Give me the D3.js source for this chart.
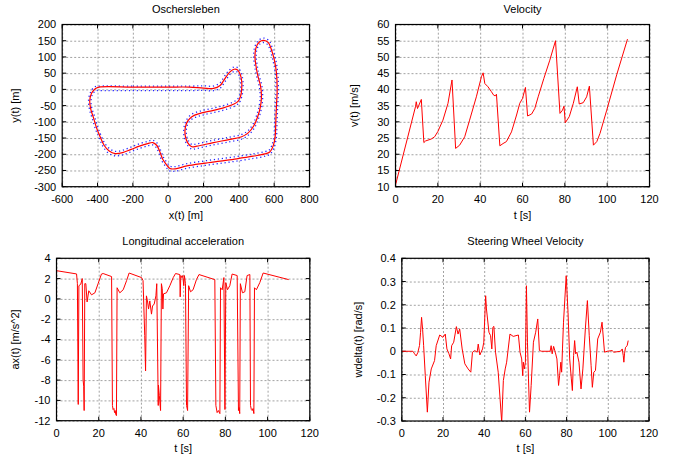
<!DOCTYPE html>
<html>
<head>
<meta charset="utf-8">
<script src="https://cdn.jsdelivr.net/npm/d3@7"></script>
<style>
  html, body { margin: 0; padding: 0; background: #fff; }
  svg { display: block; }
  text { font-family: "Liberation Sans", Arial, Helvetica, sans-serif; font-size: 11px; fill: #000; }
</style>
</head>
<body>
<svg id="chart" width="681" height="459"></svg>
<script>
// ---------------- DATA ----------------
// Racing line (red), clockwise on screen
const trackX = [-391,-200,0,120,200,256,294,313,331,350,373,393,408,416,416,410,397,369,313,238,181,134,110,97,97,110,134,162,256,350,416,453,484,508,523,528,523,508,497,491,497,516,541,567,584,600,613,617,613,609,606,594,575,547,481,388,294,200,106,40,10,-11,-30,-49,-64,-87,-116,-163,-210,-258,-300,-334,-362,-387,-406,-423,-438,-444,-434,-413];
const trackY = [7,7,7,7,4,3,12,26,41,54,62,60,46,26,0,-21,-36,-46,-57,-67,-74,-84,-98,-118,-144,-164,-177,-175,-164,-154,-146,-134,-113,-82,-51,-21,10,41,72,103,128,146,151,144,123,93,51,0,-51,-103,-144,-175,-193,-199,-206,-214,-221,-228,-236,-245,-244,-231,-216,-190,-173,-164,-167,-175,-185,-195,-198,-190,-173,-144,-118,-87,-62,-36,-12,2];
// Track borders (blue dotted)
const outerX = [-391,-200,0,120,200,255,291,309,327,347,372,396,414,423,423,416,401,371,314,239,182,136,115,104,104,115,135,161,255,349,415,450,479,502,516,521,516,502,490,484,491,513,541,571,590,607,620,624,620,616,613,600,578,548,482,389,295,201,107,41,8,-15,-35,-54,-68,-88,-115,-162,-209,-257,-300,-337,-367,-392,-412,-429,-444,-451,-439,-416];
const outerY = [10,10,10,10,11,10,19,32,47,60,69,66,50,26,-1,-24,-42,-53,-64,-74,-81,-91,-103,-120,-142,-159,-170,-168,-157,-147,-139,-128,-108,-78,-49,-21,8,38,70,103,132,152,158,150,127,96,52,0,-52,-104,-145,-179,-199,-206,-213,-221,-228,-235,-243,-252,-251,-237,-221,-194,-179,-171,-174,-182,-192,-202,-205,-197,-178,-148,-122,-91,-65,-35,-8,8];
const innerX = [-391,-200,0,120,200,257,297,317,335,353,374,390,402,409,409,404,393,367,312,237,180,132,105,90,90,105,133,163,257,351,417,456,489,514,530,535,530,514,504,498,503,519,541,563,578,593,606,610,606,602,599,588,572,546,480,387,293,199,105,39,12,-7,-25,-44,-60,-86,-117,-164,-211,-259,-300,-331,-357,-382,-400,-417,-432,-437,-429,-410];
const innerY = [-4,-4,-4,-4,-3,-4,5,20,35,48,55,54,42,26,1,-18,-30,-39,-50,-60,-67,-77,-93,-116,-146,-169,-184,-182,-171,-161,-153,-140,-118,-86,-53,-21,12,44,74,103,124,140,144,138,119,90,50,0,-50,-102,-143,-171,-187,-192,-199,-207,-214,-221,-229,-238,-237,-225,-211,-186,-167,-157,-160,-168,-178,-188,-191,-183,-168,-140,-114,-83,-59,-37,-16,-4];

// Velocity v(t) [m/s]
const velT = [0,9.5,9.8,10.4,12.2,13.4,14.2,16.9,18.5,20,22.4,24.8,26.7,28.4,30.3,32.7,35,38.2,40.6,41.4,42.2,43.7,45.3,46.4,47.1,47.7,49.3,50.8,52.4,54.8,57.2,58.7,60,61.4,62.4,64.3,65.8,67.4,70.1,72.9,75.6,77.7,78.9,79.6,80.2,82.1,84,85.9,86.8,88.7,90.3,91.6,93.5,95.1,96.6,99.8,104.5,109.6];
const velV = [10.5,34.8,36.2,34.1,36.9,23.6,24.1,24.7,25.4,27,30.5,35.7,42.9,21.8,22.8,25.4,30.5,37.7,43.9,45.1,41.8,40.8,39.3,38.2,38.0,38.5,22.6,23.3,23.9,26.9,32.1,35.7,37.2,40.6,31.8,32.4,34.1,37.7,43.4,49.0,55.0,32.6,33.6,34.8,29.7,31.6,35.7,40.8,35.5,35.9,37.7,41.0,22.8,23.9,26.4,33.6,44.5,55.5];

// Longitudinal acceleration ax(t) [m/s^2]
const accT = [0,9.5,9.9,10.3,10.6,11.5,12.2,12.6,12.9,13.1,13.4,13.9,14.5,15.3,16.6,18.2,19.7,21.3,22.1,26.1,26.5,26.8,27.2,27.5,27.8,28.1,28.4,28.7,30,31.6,33.2,34.4,40.3,41,41.8,42.2,42.6,43.1,43.6,44.2,45,45.5,46.3,47.1,47.5,48.2,48.3,48.7,49.3,49.7,50.1,50.4,50.7,52.1,53.7,55.3,56.4,58.4,58.6,58.9,59.4,59.8,60.3,60.6,61.1,61.6,62.1,62.6,63.5,64.7,66.3,67.5,75,75.5,76.1,76.7,77.4,77.7,78.5,79.3,79.8,80.2,81,82.1,83.2,85.6,86.2,86.5,86.8,87.1,88.1,89.2,90.3,91.6,91.9,92.3,92.7,93.1,93.5,93.8,94.7,96.3,97.9,110];
const accA = [2.78,2.46,1.5,-10.4,1.3,1.45,2.0,-8.0,-8.6,-11.0,1.5,1.5,-0.3,0.8,0.4,0.6,1.5,2.45,2.5,2.2,-10.5,-10.9,-10.8,-11.2,-11.0,-11.4,-11.5,1.1,0.6,0.9,1.8,2.55,2.1,1.8,-3.6,-7.1,0.3,-0.2,-1.0,-0.2,-1.5,-0.7,-0.5,0.3,1.5,-10.5,-8.5,-9.5,-11.0,1.5,1.0,-1.0,0.5,0.6,1.3,2.1,2.5,2.4,0.2,2.3,2.1,2.3,1.3,2.3,1.5,-10.5,-11.0,1.3,0.7,0.9,1.9,2.4,1.9,-10.5,-11.2,-11.0,-11.3,1.1,0.9,2.1,-10.9,1.6,0.9,1.3,2.45,2.3,-11.0,-10.7,-11.3,1.5,0.6,0.7,2.3,2.4,-10.5,-10.9,-11.0,-10.8,-11.3,1.1,0.9,1.6,2.55,1.9];

// Steering wheel velocity wdelta(t) [rad/s]
const steerT = [0,5.4,6.2,7,7.8,8.6,9.1,9.6,10.1,10.6,11.4,12.4,13.2,14.3,15.9,16.7,18.4,20,21.1,21.9,22.9,23.7,24.2,25.2,26.5,27.3,28.1,29.3,30.6,32.2,33.5,34.3,35.4,36.6,37.1,37.9,39.2,39.8,40.7,41.1,42.3,43.1,43.7,44.2,44.7,45.5,46.8,48.5,49.3,50.2,50.9,52.5,54.1,56.6,57.4,58.2,58.7,59,59.5,60,60.5,61,61.5,62,62.8,63.9,65,66,66.8,67.9,72,72.5,73,73.7,74.5,75.3,76.1,76.6,77.2,77.6,78,78.5,79.8,80.7,81.5,82.3,82.8,83.4,83.9,84.4,85,86,87,87.9,89.1,90.1,91,91.9,92.5,93.2,94,95.1,96.4,97.2,98.4,99.7,102.1,102.9,106.2,107,107.5,107.8,108.1,108.6,109.4,109.9];
const steerW = [0,0,-0.011,-0.02,-0.005,0.025,0.08,0.146,0.095,0.024,-0.105,-0.262,-0.133,-0.076,-0.04,0.024,0.07,0.06,0.074,0.01,-0.011,-0.033,0.024,0.039,0.106,0.074,0.096,0.01,-0.054,-0.076,-0.09,-0.004,0.003,-0.004,0.031,-0.016,0.01,0.039,0.239,0.182,0.082,0.067,0.01,0.103,0.107,-0.004,-0.09,-0.305,-0.126,-0.076,-0.047,0.074,0.064,0.07,-0.004,-0.033,-0.105,-0.047,-0.076,-0.047,0.282,0.039,-0.119,-0.262,-0.147,0.039,0.082,0.139,0.003,0,0,0.024,-0.011,0.021,-0.004,-0.033,-0.147,-0.105,-0.047,-0.09,0.01,0.125,0.325,0.167,-0.033,-0.119,-0.169,-0.019,0.046,-0.011,-0.004,-0.047,-0.162,-0.076,0.096,0.218,0.067,-0.062,-0.155,-0.09,-0.083,0.053,0.082,0.125,-0.004,0,0.003,-0.004,0,0.01,-0.019,-0.047,-0.011,0.017,0.024,0.046];

// Tick labels
const trackXTicks = [-600,-400,-200,0,200,400,600,800];
const trackYTicks = [-300,-250,-200,-150,-100,-50,0,50,100,150,200];
const timeTicks = [0,20,40,60,80,100,120];
const velTicks = [10,15,20,25,30,35,40,45,50,55,60];
const accTicks = [-12,-10,-8,-6,-4,-2,0,2,4];
const steerTicks = [-0.3,-0.2,-0.1,0,0.1,0.2,0.3,0.4];

// ---------------- DRAWING ----------------
const svg = d3.select("#chart");

function panel(cfg) {
  const g = svg.append("g");
  const x = d3.scaleLinear().domain(cfg.xDomain).range([cfg.x0, cfg.x1]);
  const y = d3.scaleLinear().domain(cfg.yDomain).range([cfg.y1, cfg.y0]);
  const w = cfg.x1 - cfg.x0, h = cfg.y1 - cfg.y0;

  // grid
  const gx = g.append("g").attr("transform", `translate(0,${cfg.y1})`)
    .call(d3.axisBottom(x).tickValues(cfg.xTicks).tickSize(-h).tickFormat(""));
  const gy = g.append("g").attr("transform", `translate(${cfg.x0},0)`)
    .call(d3.axisLeft(y).tickValues(cfg.yTicks).tickSize(-w).tickFormat(""));
  [gx, gy].forEach(a => {
    a.select(".domain").remove();
    a.selectAll(".tick line").attr("stroke", "#8a8a8a").attr("stroke-width", 0.8).attr("stroke-dasharray", "2,2");
  });

  // tick labels
  const fmt = cfg.fmt || (d => String(d));
  g.append("g").selectAll("text").data(cfg.xTicks).join("text")
    .attr("x", d => x(d)).attr("y", cfg.y1 + 15.8).attr("text-anchor", "middle").text(fmt);
  g.append("g").selectAll("text").data(cfg.yTicks).join("text")
    .attr("x", cfg.x0 - 6).attr("y", d => y(d)).attr("dy", "0.36em").attr("text-anchor", "end").text(fmt);

  // inward mirror ticks
  const tk = 4;
  const tl = g.append("g").attr("stroke", "#000").attr("stroke-width", 1);
  cfg.xTicks.forEach(d => {
    tl.append("line").attr("x1", x(d)).attr("x2", x(d)).attr("y1", cfg.y1).attr("y2", cfg.y1 - tk);
    tl.append("line").attr("x1", x(d)).attr("x2", x(d)).attr("y1", cfg.y0).attr("y2", cfg.y0 + tk);
  });
  cfg.yTicks.forEach(d => {
    tl.append("line").attr("y1", y(d)).attr("y2", y(d)).attr("x1", cfg.x0).attr("x2", cfg.x0 + tk);
    tl.append("line").attr("y1", y(d)).attr("y2", y(d)).attr("x1", cfg.x1).attr("x2", cfg.x1 - tk);
  });

  // clip
  const cid = "clip" + Math.round(cfg.x0) + "_" + Math.round(cfg.y0);
  svg.append("defs").append("clipPath").attr("id", cid)
    .append("rect").attr("x", cfg.x0).attr("y", cfg.y0).attr("width", w).attr("height", h);
  const plot = g.append("g").attr("clip-path", `url(#${cid})`);
  cfg.draw(plot, x, y);

  // frame
  g.append("rect").attr("x", cfg.x0).attr("y", cfg.y0).attr("width", w).attr("height", h)
    .attr("fill", "none").attr("stroke", "#000").attr("stroke-width", 1.2);

  // titles
  g.append("text").attr("x", (cfg.x0 + cfg.x1) / 2).attr("y", cfg.titleY).attr("text-anchor", "middle").text(cfg.title);
  g.append("text").attr("x", (cfg.x0 + cfg.x1) / 2).attr("y", cfg.xLabelY).attr("text-anchor", "middle").text(cfg.xLabel);
  g.append("text").attr("transform", `translate(${cfg.yLabelX},${(cfg.y0 + cfg.y1) / 2}) rotate(-90)`)
    .attr("text-anchor", "middle").text(cfg.yLabel);
}

function zipLine(xs, ys) { return xs.map((v, i) => [v, ys[i]]); }

// Top-left: track
panel({
  x0: 62.2, x1: 309.5, y0: 24.5, y1: 186.7,
  xDomain: [-600, 800], yDomain: [-300, 200],
  xTicks: trackXTicks, yTicks: trackYTicks,
  title: "Oschersleben", titleY: 12.5, xLabel: "x(t) [m]", xLabelY: 218.5,
  yLabel: "y(t) [m]", yLabelX: 18.8,
  draw: (p, x, y) => {
    const line = d3.line().x(d => x(d[0])).y(d => y(d[1])).curve(d3.curveCatmullRomClosed.alpha(0.5));
    [[outerX, outerY], [innerX, innerY]].forEach(([xs, ys]) => {
      p.append("path").attr("d", line(zipLine(xs, ys))).attr("fill", "none")
        .attr("stroke", "#2424ff").attr("stroke-width", 1.3).attr("stroke-dasharray", "1.2,2.8");
    });
    p.append("path").attr("d", line(zipLine(trackX, trackY))).attr("fill", "none")
      .attr("stroke", "#ff0000").attr("stroke-width", 1.2);
  }
});

function seriesDraw(ts, vs) {
  return (p, x, y) => {
    const line = d3.line().x(d => x(d[0])).y(d => y(d[1]));
    p.append("path").attr("d", line(zipLine(ts, vs))).attr("fill", "none")
      .attr("stroke", "#ff0000").attr("stroke-width", 1).attr("stroke-linejoin", "round");
  };
}

// Top-right: velocity
panel({
  x0: 395.5, x1: 649.5, y0: 24.5, y1: 186.7,
  xDomain: [0, 120], yDomain: [10, 60],
  xTicks: timeTicks, yTicks: velTicks,
  title: "Velocity", titleY: 12.5, xLabel: "t [s]", xLabelY: 218.5,
  yLabel: "v(t) [m/s]", yLabelX: 357.5,
  draw: seriesDraw(velT, velV)
});

// Bottom-left: acceleration
panel({
  x0: 56.5, x1: 309.8, y0: 258.3, y1: 420.7,
  xDomain: [0, 120], yDomain: [-12, 4],
  xTicks: timeTicks, yTicks: accTicks,
  title: "Longitudinal acceleration", titleY: 245, xLabel: "t [s]", xLabelY: 451.5,
  yLabel: "ax(t) [m/s^2]", yLabelX: 18.5,
  draw: seriesDraw(accT, accA)
});

// Bottom-right: steering wheel velocity
panel({
  x0: 401.8, x1: 649, y0: 258.3, y1: 421,
  xDomain: [0, 120], yDomain: [-0.3, 0.4],
  xTicks: timeTicks, yTicks: steerTicks,
  fmt: d => String(d),
  title: "Steering Wheel Velocity", titleY: 245, xLabel: "t [s]", xLabelY: 451.5,
  yLabel: "wdelta(t) [rad/s]", yLabelX: 362,
  draw: seriesDraw(steerT, steerW)
});
</script>
</body>
</html>
